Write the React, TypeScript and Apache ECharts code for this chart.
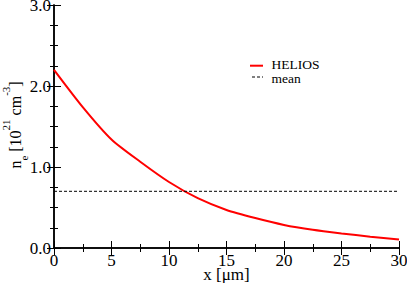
import React, { useEffect, useRef } from "react";
import * as echarts from "echarts";

const xPositions = [0, 2.5, 5, 7.5, 10, 12.5, 15, 17.5, 20, 22.5, 25, 27.5, 30];
const heliosValues = [2.2, 1.74, 1.34, 1.065, 0.815, 0.615, 0.47, 0.37, 0.285, 0.225, 0.18, 0.14, 0.105];
const meanValue = 0.7;
const meanRange = [0, 30];
const seriesNames = ["HELIOS", "mean"];
const xTitle = "x [μm]";
// y title pieces: [text, kind]
const yTitleParts: [string, string][] = [
  ["n", "b"],
  ["e", "sub"],
  [" [10", "b"],
  ["21", "sup"],
  [" cm", "b"],
  ["-3", "sup"],
  ["]", "b"],
];

const FONT = "serif";

function measure(text: string, size: number): number {
  const c = document.createElement("canvas").getContext("2d");
  if (!c) return text.length * size * 0.5;
  c.font = `${size}px ${FONT}`;
  return c.measureText(text).width;
}

export default function App() {
  const ref = useRef<HTMLDivElement>(null);
  useEffect(() => {
    if (!ref.current) return;
    const chart = echarts.init(ref.current, undefined, { renderer: "svg" });
    const axisLineStyle = { color: "#000", width: 1.5 };
    const tickStyle = { color: "#000", width: 1 };
    const xCommon = {
      type: "value",
      min: 0,
      max: 30,
      interval: 5,
      splitLine: { show: false },
      axisLine: { show: true, lineStyle: axisLineStyle },
      axisTick: { show: true, inside: true, length: 7, lineStyle: tickStyle },
      minorTick: { show: true, splitNumber: 2, length: 4, lineStyle: tickStyle },
    };
    const yCommon = {
      type: "value",
      min: 0,
      max: 3,
      interval: 1,
      splitLine: { show: false },
      axisLine: { show: true, lineStyle: axisLineStyle },
      axisTick: { show: true, inside: true, length: 7, lineStyle: tickStyle },
      minorTick: { show: true, splitNumber: 4, length: 4, lineStyle: tickStyle },
    };

    // y-axis title built from pieces in a rotated group
    const sizes: Record<string, number> = { b: 16, sub: 11, sup: 11 };
    const offsets: Record<string, number> = { b: 0, sub: 8, sup: -10 };
    const widths = yTitleParts.map(([t, k]) => measure(t, sizes[k]));
    const total = widths.reduce((a, b) => a + b, 0);
    let cursor = -total / 2;
    const titleChildren = yTitleParts.map(([t, k], i) => {
      const el = {
        type: "text",
        x: cursor,
        y: offsets[k],
        style: {
          text: t,
          fontFamily: FONT,
          fontSize: sizes[k],
          fill: "#000",
          align: "left",
          verticalAlign: "middle",
        },
      };
      cursor += widths[i];
      return el;
    });

    chart.setOption({
      animation: false,
      backgroundColor: "#fff",
      grid: { left: 54, top: 5, right: 8, bottom: 35, containLabel: false, outerBoundsMode: "none" },
      xAxis: [
        {
          ...xCommon,
          position: "bottom",
          name: xTitle,
          nameLocation: "middle",
          nameGap: 19.5,
          nameMoveOverlap: false,
          nameTextStyle: { fontFamily: FONT, fontSize: 17, color: "#000", verticalAlign: "top", lineHeight: 14 },
          axisLabel: {
            show: true,
            margin: 5.5,
            lineHeight: 14,
            fontFamily: FONT,
            fontSize: 17,
            color: "#000",
            formatter: (v: number) => String(v),
          },
        },
        { ...xCommon, position: "top", axisLabel: { show: false } },
      ],
      yAxis: [
        {
          ...yCommon,
          position: "left",
          axisLabel: {
            show: true,
            margin: 3,
            fontFamily: FONT,
            fontSize: 17,
            color: "#000",
            formatter: (v: number) => v.toFixed(1),
          },
        },
        { ...yCommon, position: "right", axisLabel: { show: false } },
      ],
      graphic: [
        {
          type: "group",
          x: 15.6,
          y: 125,
          rotation: Math.PI / 2,
          children: titleChildren,
        },
        {
          type: "line",
          shape: { x1: 250, y1: 65.7, x2: 263, y2: 65.7 },
          style: { stroke: "#ff0000", lineWidth: 2 },
        },
        {
          type: "text",
          x: 271.5,
          y: 64.8,
          style: { text: seriesNames[0], fontFamily: FONT, fontSize: 13.5, fill: "#000", verticalAlign: "middle" },
        },
        {
          type: "line",
          shape: { x1: 252, y1: 77, x2: 263, y2: 77 },
          style: { stroke: "#000", lineWidth: 1, lineDash: [3, 2] },
        },
        {
          type: "text",
          x: 271.5,
          y: 78.6,
          style: { text: seriesNames[1], fontFamily: FONT, fontSize: 13.5, fill: "#000", verticalAlign: "middle" },
        },
      ],
      series: [
        {
          name: seriesNames[0],
          type: "line",
          xAxisIndex: 0,
          yAxisIndex: 0,
          smooth: 0.25,
          symbol: "none",
          lineStyle: { color: "#ff0000", width: 2 },
          itemStyle: { color: "#ff0000" },
          data: xPositions.map((x, i) => [x, heliosValues[i]]),
        },
        {
          name: seriesNames[1],
          type: "line",
          xAxisIndex: 0,
          yAxisIndex: 0,
          symbol: "none",
          lineStyle: { color: "#000", width: 1, type: [3, 2] },
          itemStyle: { color: "#000" },
          data: meanRange.map((x) => [x, meanValue]),
        },
      ],
    });
    return () => chart.dispose();
  }, []);
  return (
    <div
      ref={ref}
      style={{ position: "fixed", left: 0, top: 0, width: 407, height: 283, background: "#fff" }}
    />
  );
}
